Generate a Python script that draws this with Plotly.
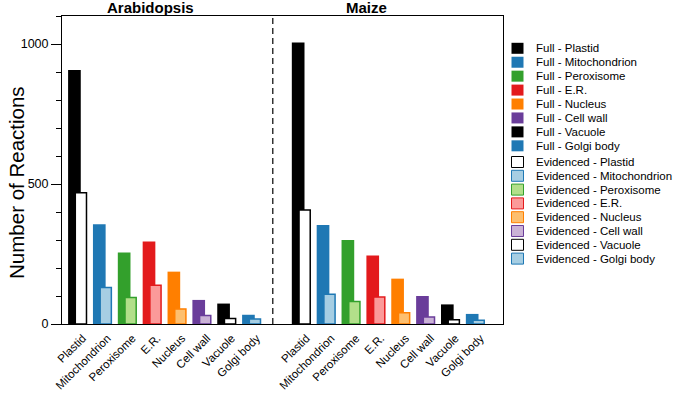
import plotly.graph_objects as go

# ---------------- data ----------------
categories = ["Plastid", "Mitochondrion", "Peroxisome", "E.R.", "Nucleus",
              "Cell wall", "Vacuole", "Golgi body"]
species = ["Arabidopsis", "Maize"]

arabidopsis_full = [907, 356, 255, 295, 187, 86, 73, 33]
arabidopsis_evidenced = [469, 130, 95, 138, 54, 30, 20, 18]
maize_full = [1005, 354, 300, 245, 162, 100, 70, 36]
maize_evidenced = [407, 106, 80, 96, 40, 25, 15, 13]

full_colors = ["#000000", "#1f78b4", "#33a02c", "#e31a1c", "#ff7f00",
               "#6a3d9a", "#000000", "#1f78b4"]
evidenced_colors = ["#ffffff", "#a6cee3", "#b2df8a", "#fb9a99", "#fdbf6f",
                    "#cab2d6", "#ffffff", "#a6cee3"]
evidenced_edges = ["#000000", "#1f78b4", "#33a02c", "#e31a1c", "#ff7f00",
                   "#6a3d9a", "#000000", "#1f78b4"]

y_tickvals = [0, 500, 1000]

FONT = "Liberation Sans, Arial, Helvetica, sans-serif"

# ---------------- figure ----------------
n = len(categories)
group_offsets = [0, n + 1]          # Maize block starts after a one-slot gap
shift = 0.13

fig = go.Figure()
series = [(arabidopsis_full, arabidopsis_evidenced), (maize_full, maize_evidenced)]
tickvals, ticktext = [], []
for off, (full, evid) in zip(group_offsets, series):
    pos = [off + i for i in range(n)]
    tickvals += pos
    ticktext += categories
    fig.add_trace(go.Bar(
        x=[p - shift for p in pos], y=full, width=0.51,
        marker=dict(color=full_colors, line=dict(width=0)),
        showlegend=False, hoverinfo="skip"))
    fig.add_trace(go.Bar(
        x=[p + shift for p in pos], y=evid, width=0.45,
        marker=dict(color=evidenced_colors,
                    line=dict(color=evidenced_edges, width=1.5)),
        showlegend=False, hoverinfo="skip"))

fig.update_layout(
    width=680, height=393,
    margin=dict(l=62, r=177, t=16, b=69),
    paper_bgcolor="white", plot_bgcolor="white",
    barmode="overlay",
    font=dict(family=FONT, size=12, color="black"),
    showlegend=False,
)

fig.update_xaxes(
    range=[-0.63, 17.11], automargin=False,
    tickmode="array", tickvals=tickvals, ticktext=ticktext,
    tickangle=-45, ticks="", tickfont=dict(size=11.5),
    ticklabelshift=5, ticklabelstandoff=2,
    showline=True, linecolor="black", linewidth=1, mirror=True,
    showgrid=False, zeroline=False,
)
fig.update_yaxes(
    range=[0, 1100], automargin=False,
    tickmode="array", tickvals=y_tickvals,
    ticks="outside", ticklen=10, tickwidth=1, tickcolor="black",
    minor=dict(dtick=100, ticks="outside", ticklen=5, tickwidth=1, tickcolor="black"),
    tickfont=dict(size=12.5),
    showline=True, linecolor="black", linewidth=1, mirror=True,
    showgrid=False, zeroline=False,
)

# separator between species blocks
sep = group_offsets[1] - 1.15
fig.add_shape(type="line", xref="x", yref="paper", x0=sep, x1=sep, y0=0, y1=1,
              line=dict(color="black", width=1.2, dash="6px,4px"))

# species titles
for off, name in zip(group_offsets, species):
    fig.add_annotation(
        text="<b>%s</b>" % name, xref="x", yref="paper",
        x=off + (2.93 if off == 0 else 2.62), y=1, yanchor="middle", yshift=9,
        showarrow=False, font=dict(size=15, family=FONT))

# y-axis title
fig.add_annotation(
    text="Number of Reactions", textangle=-90,
    xref="paper", yref="paper", x=0, xshift=-45, y=0.458,
    xanchor="center", yanchor="middle", showarrow=False,
    font=dict(size=20.5, family=FONT))

# manual legend
entries = []
for i, c in enumerate(categories):
    entries.append(("Full - " + c, full_colors[i], full_colors[i], 48.3 + 13.93 * i))
for i, c in enumerate(categories):
    entries.append(("Evidenced - " + c, evidenced_colors[i], evidenced_edges[i],
                    162.0 + 13.8 * i))
for i, (label, fill, edge, cy) in enumerate(entries):
    rel = -(cy - 16)
    is_evid = label.startswith("Evidenced")
    fig.add_shape(
        type="rect", xref="paper", yref="paper",
        xsizemode="pixel", ysizemode="pixel", xanchor=1, yanchor=1,
        x0=8.5, x1=20.5, y0=rel - 5.5, y1=rel + 5.5,
        fillcolor=fill,
        line=dict(color=edge if is_evid else fill, width=1 if is_evid else 0))
    fig.add_annotation(
        text=label, xref="paper", yref="paper", x=1, y=1,
        xshift=30.5, yshift=rel, xanchor="left", yanchor="middle",
        showarrow=False, font=dict(size=11.5, family=FONT))

fig.write_html("out.html", config={"displayModeBar": False},
               post_script="document.body.style.margin='0px';document.body.style.overflow='hidden';")
